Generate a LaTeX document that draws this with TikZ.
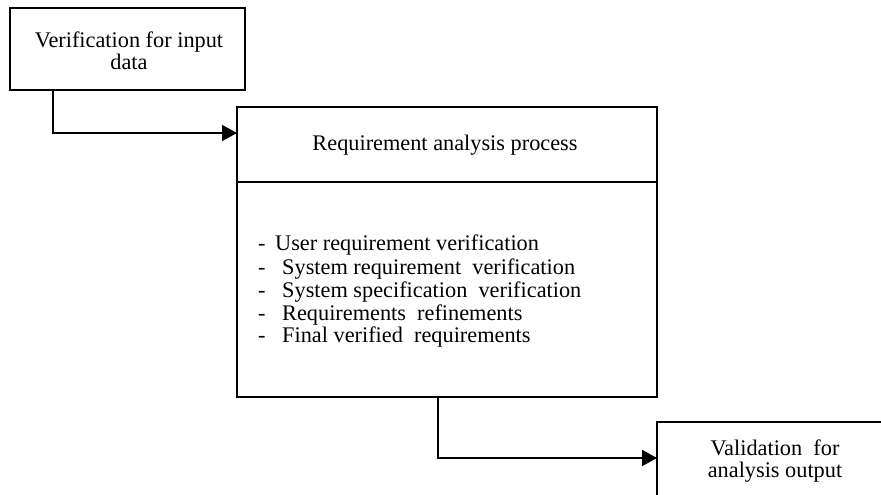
\documentclass[tikz,border=0pt]{standalone}
\usepackage{fontspec}
\setmainfont{Liberation Serif}
\usetikzlibrary{arrows.meta}
\begin{document}
\begin{tikzpicture}[x=1pt,y=-1pt,
  box/.style={draw=black, line width=1.8pt, fill=white},
  conn/.style={draw=black, line width=1.8pt, -{Triangle[length=15pt,width=16pt]}},
  lbl/.style={font=\fontsize{22.3}{22.5}\selectfont, align=center, inner sep=0pt},
  item/.style={font=\fontsize{22.3}{23}\selectfont, anchor=base west, inner sep=0pt}]
  \useasboundingbox (0,0) rectangle (881,495);
  \clip (0,0) rectangle (881,495);
  % boxes
  \draw[box] (10,8) rectangle (245,90);
  \node[lbl] (inp) at (129,51) {Verification for input\\data};
  \draw[box] (237,107) rectangle (657,397);
  \draw[line width=1.8pt] (237,182) -- (657,182);
  \node[lbl] (proc) at (445,145) {Requirement analysis process};
  \draw[box] (657,422) rectangle (900,520);
  \node[lbl] (outp) at (775,461) {Validation\ \ for\\analysis output};
  % anchor points of the box edges
  \coordinate (inpB) at (53,90);
  \coordinate (procL) at (237,133);
  \coordinate (procB) at (438,397);
  \coordinate (outL) at (657,458);
  % list of activities
  \node[item] (d1) at (258,250) {-};
  \node[item] (t1) at (275,250) {User requirement verification};
  \node[item] (d2) at (258,274) {-};
  \node[item] (t2) at (282,274) {System requirement\ \ verification};
  \node[item] (d3) at (258,297) {-};
  \node[item] (t3) at (282,297) {System specification\ \ verification};
  \node[item] (d4) at (258,320) {-};
  \node[item] (t4) at (282,320) {Requirements\ \ refinements};
  \node[item] (d5) at (258,342) {-};
  \node[item] (t5) at (282,342) {Final verified\ \ requirements};
  % connectors
  \draw[conn] (inpB) |- (procL);
  \draw[conn] (procB) |- (outL);
\end{tikzpicture}
\end{document}
